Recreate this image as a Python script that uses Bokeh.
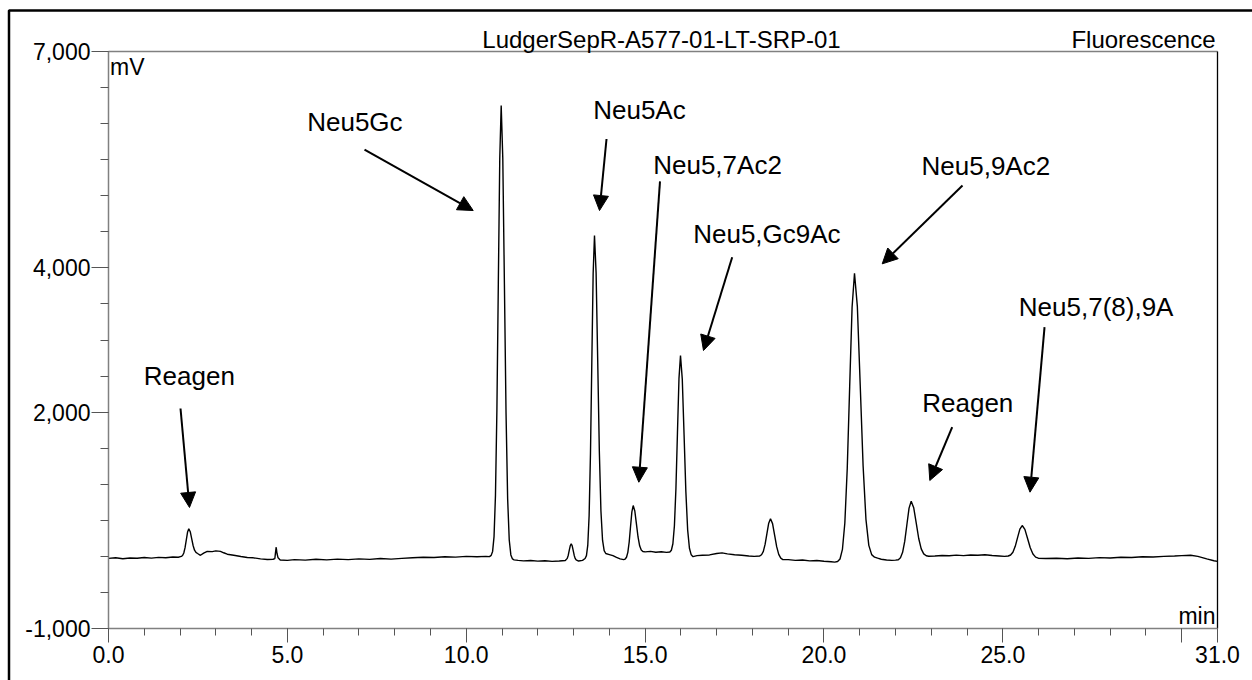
from bokeh.plotting import figure
from bokeh.models import FixedTicker, NumeralTickFormatter, Arrow, NormalHead, ColumnDataSource, Range1d
from bokeh.embed import file_html
from bokeh.resources import INLINE
from bokeh.core.properties import value

FONT = "Liberation Sans"

# ---- chromatogram trace (time in min, signal in mV) ----
time_min = [
    0.0, 0.2, 0.4, 0.6, 0.8, 1.0, 1.2, 1.4, 1.6, 1.8, 1.95,
    2.035, 2.07, 2.105, 2.14, 2.175, 2.21, 2.245, 2.285, 2.325, 2.365, 2.405, 2.445, 2.49,
    2.57, 2.66, 2.76, 2.9, 3.0, 3.13, 3.22, 3.32, 3.5, 3.7, 3.88, 4.05, 4.25, 4.44, 4.6, 4.65,
    4.67, 4.688, 4.71, 4.74, 4.8,
    5.0, 5.2, 5.5, 5.8, 6.1, 6.4, 6.7, 7.0, 7.3, 7.6, 7.9, 8.2, 8.5, 8.8, 9.1, 9.4, 9.7,
    10.0, 10.3, 10.55, 10.65,
    10.697, 10.737, 10.777, 10.817, 10.857, 10.897, 10.937, 10.977,
    11.022, 11.067, 11.112, 11.157, 11.202, 11.247, 11.292, 11.337,
    11.45, 11.6, 11.8, 12.0, 12.2, 12.4, 12.6,
    12.769, 12.824, 12.852, 12.879, 12.907, 12.934, 12.962, 12.989, 13.017, 13.044, 13.072,
    13.14, 13.25,
    13.3225, 13.36, 13.3975, 13.435, 13.4725, 13.51, 13.5475, 13.585,
    13.63, 13.675, 13.72, 13.765, 13.81, 13.855, 13.9,
    14.0, 14.1, 14.2, 14.3, 14.4,
    14.442, 14.48, 14.517, 14.555, 14.592, 14.63, 14.667,
    14.712, 14.757, 14.802, 14.847, 14.892, 14.937,
    15.0, 15.15, 15.3, 15.45, 15.6,
    15.6915, 15.734, 15.7765, 15.819, 15.8615, 15.904, 15.9465, 15.989,
    16.039, 16.089, 16.139, 16.189, 16.239, 16.289, 16.339,
    16.45, 16.6, 16.8, 17.0, 17.15, 17.3, 17.5, 17.7, 17.9, 18.05,
    18.205, 18.255, 18.305, 18.355, 18.405, 18.455, 18.505,
    18.5625, 18.62, 18.6775, 18.735, 18.7925, 18.85,
    19.0, 19.2, 19.4, 19.6, 19.8, 20.0, 20.2, 20.3,
    20.3805, 20.448, 20.5155, 20.583, 20.6505, 20.718, 20.7855, 20.853,
    20.933, 21.013, 21.093, 21.173, 21.253, 21.333, 21.413,
    21.5, 21.6, 21.75, 21.9, 22.0,
    22.078, 22.138, 22.198, 22.258, 22.318, 22.378, 22.438,
    22.508, 22.578, 22.648, 22.718, 22.788, 22.858, 22.928,
    23.1, 23.3, 23.5, 23.7, 23.9, 24.1, 24.3, 24.5, 24.7, 24.9, 25.05,
    25.151, 25.216, 25.281, 25.346, 25.411, 25.476, 25.541,
    25.616, 25.691, 25.766, 25.841, 25.916, 25.991,
    26.2, 26.5, 26.8, 27.1, 27.4, 27.7, 28.0, 28.3, 28.6, 28.9, 29.2, 29.5, 29.8,
    30.0, 30.25, 30.45, 30.7, 30.9, 31.0,
]
signal_mv = [
    -28, -20, -32, -22, -26, -15, -24, -14, -20, -8, -12,
    -1, 12, 47, 121, 230, 337, 382, 342, 247, 151, 86, 55, 40,
    15, 45, 70, 66, 76, 70, 50, 30, 15, -2, -15, -20, -35, -43, -40, -30,
    60, 127, 40, -20, -50,
    -55, -45, -52, -40, -48, -38, -45, -35, -42, -30, -38, -28, -20, -12, -15, -5, -10,
    0, -6, 0, -4,
    14, 69, 274, 846, 2030, 3791, 5517, 6251,
    5511, 3772, 1996, 803, 227, 20, -36, -48,
    -55, -62, -58, -66, -60, -70, -64,
    -57, -28, 16, 82, 147, 174, 147, 82, 16, -28, -50,
    -65, -55,
    -30, 10, 157, 567, 1418, 2683, 3921, 4449,
    3930, 2710, 1465, 628, 224, 79, 40,
    25, 10, -15, -35, -45,
    -37, -12, 56, 199, 410, 617, 705,
    629, 451, 269, 147, 88, 67,
    62, 70, 58, 65, 55,
    61, 85, 175, 424, 941, 1711, 2464, 2785,
    2457, 1685, 898, 368, 113, 21, -4,
    10, 15, 20, 40, 48, 35, 22, 15, 5, 0,
    6, 23, 70, 169, 316, 460, 521,
    454, 296, 135, 27, -25, -44,
    -45, -55, -50, -62, -58, -68, -75, -80,
    -71, -36, 96, 462, 1221, 2350, 3455, 3926,
    3462, 2373, 1261, 514, 153, 24, -11,
    -25, -40, -50, -55, -52,
    -46, -19, 56, 211, 442, 669, 765,
    675, 464, 248, 104, 34, 8, 2,
    5, 12, 8, 18, 10, 20, 15, 22, 12, 5, 0,
    5, 19, 58, 139, 260, 378, 428,
    374, 248, 119, 32, -10, -25,
    -30, -25, -32, -22, -28, -18, -22, -12, -15, -5, -8, 0, 5,
    10, 15, 0, -35, -60, -70,
]

# ---- axes ----
x_start, x_end = 0, 31
y_start, y_end = -1000, 7000
x_major_ticks = [0, 5, 10, 15, 20, 25, 30, 31]
x_tick_labels = ["0.0", "5.0", "10.0", "15.0", "20.0", "25.0", "", "31.0"]
x_minor_ticks = [0, 1, 2, 3, 4, 5, 6, 7, 8, 9, 10, 11, 12, 13, 14, 15, 16, 17, 18, 19,
                 20, 21, 22, 23, 24, 25, 26, 27, 28, 29, 30, 31]
y_major_ticks = [-1000, 2000, 4000, 7000]
y_minor_ticks = [-1000, -500, 0, 500, 1000, 1500, 2000, 2500, 3000, 3500, 4000,
                 4500, 5000, 5500, 6000, 6500, 7000]

# ---- peak annotations ----
peak_names = ["Reagen", "Neu5Gc", "Neu5Ac", "Neu5,7Ac2", "Neu5,Gc9Ac", "Neu5,9Ac2",
              "Reagen", "Neu5,7(8),9A"]
name_x = [0.987, 5.554, 13.549, 15.226, 16.344, 22.726, 22.746, 25.446]
name_y = [2393, 5905, 6081, 5313, 4356, 5308, 2022, 3340]
arrow_x0 = [2.013, 7.156, 13.921, 15.416, 17.434, 23.872, 23.584, 26.165]
arrow_y0 = [2050, 5641, 5787, 5200, 4148, 5142, 1791, 3178]
arrow_x1 = [2.264, 10.195, 13.725, 14.824, 16.632, 21.628, 22.958, 25.759]
arrow_y1 = [678, 4795, 4795, 1028, 2854, 4056, 1052, 890]

# ---- page layout (pixels) ----
W, H = 1252, 680
PLOT_L, PLOT_R, PLOT_T, PLOT_B = 108, 1217, 51, 628
TEXT_SHIFT = -8   # screen-pixel correction so the text baseline sits where intended
sx = (PLOT_R - PLOT_L) / (x_end - x_start)
sy = (PLOT_B - PLOT_T) / (y_end - y_start)
def tx(px):
    return x_start + (px - PLOT_L) / sx
def vy(py):
    return y_end - (py - PLOT_T) / sy

p = figure(width=W, height=H, x_range=Range1d(tx(0), tx(W)), y_range=Range1d(vy(H), vy(0)),
           output_backend="svg", toolbar_location=None,
           min_border_left=0, min_border_right=0, min_border_top=0, min_border_bottom=0)
p.grid.visible = False
p.background_fill_color = "white"
p.border_fill_color = "white"
p.outline_line_color = None

xa = p.xaxis[0]
xa.fixed_location = y_start
xa.bounds = (x_start, x_end)
xa.ticker = FixedTicker(ticks=x_major_ticks, minor_ticks=x_minor_ticks)
xa.major_label_overrides = {t: s for t, s in zip(x_major_ticks, x_tick_labels)}
xa.formatter = NumeralTickFormatter(format="0.0")
ya = p.yaxis[0]
ya.fixed_location = x_start
ya.bounds = (y_start, y_end)
ya.ticker = FixedTicker(ticks=y_major_ticks, minor_ticks=y_minor_ticks)
ya.formatter = NumeralTickFormatter(format="0,0")

for ax in (xa, ya):
    ax.axis_line_color = "#808080"
    ax.axis_line_width = 1.5
    ax.major_tick_line_color = "#555555"
    ax.minor_tick_line_color = "#555555"
    ax.major_tick_in = 0
    ax.minor_tick_in = 0
    ax.major_label_text_font = FONT
    ax.major_label_text_font_size = "23px"
    ax.major_label_text_color = "black"
xa.major_tick_out = 14
xa.minor_tick_out = 7
xa.major_label_standoff = 3
ya.major_tick_out = 17
ya.minor_tick_out = 8
ya.major_label_standoff = 1

# plot-area top edge (grey) and right edge (black)
p.segment(x0=[x_start], y0=[y_end], x1=[x_end], y1=[y_end], line_color="#808080", line_width=1.5)
p.segment(x0=[x_end], y0=[y_start], x1=[x_end], y1=[y_end], line_color="black", line_width=1.3)

# outer frame of the printout
p.multi_line(xs=[[tx(8.5), tx(8.5), tx(W + 20)]], ys=[[vy(H + 20), vy(10), vy(10)]],
             line_color="black", line_width=2.5)

p.line(time_min, signal_mv, line_color="black", line_width=1.4)

p.text(x=name_x, y=name_y, text=peak_names, text_font=value(FONT), text_font_size="26px",
       text_baseline="alphabetic", text_align="left", text_color="black", y_offset=TEXT_SHIFT)

arrow_src = ColumnDataSource(dict(x0=arrow_x0, y0=arrow_y0, x1=arrow_x1, y1=arrow_y1))
p.add_layout(Arrow(end=NormalHead(size=15, fill_color="black", line_color="black"),
                   x_start="x0", y_start="y0", x_end="x1", y_end="y1",
                   line_width=2, line_color="black", source=arrow_src))

# header texts and axis unit labels
p.text(x=[tx(661)], y=[vy(46.5)], text=["LudgerSepR-A577-01-LT-SRP-01"], text_align="center",
       text_baseline="alphabetic", text_font=value(FONT), text_font_size="24px",
       text_color="black", y_offset=TEXT_SHIFT)
p.text(x=[tx(1215)], y=[vy(46.5)], text=["Fluorescence"], text_align="right",
       text_baseline="alphabetic", text_font=value(FONT), text_font_size="24px",
       text_color="black", y_offset=TEXT_SHIFT)
p.text(x=[tx(109.5)], y=[vy(74)], text=["mV"], text_align="left",
       text_baseline="alphabetic", text_font=value(FONT), text_font_size="23px",
       text_color="black", y_offset=TEXT_SHIFT)
p.text(x=[tx(1215)], y=[vy(623)], text=["min"], text_align="right",
       text_baseline="alphabetic", text_font=value(FONT), text_font_size="23px",
       text_color="black", y_offset=TEXT_SHIFT)

open("out.html", "w").write(file_html(p, INLINE))
